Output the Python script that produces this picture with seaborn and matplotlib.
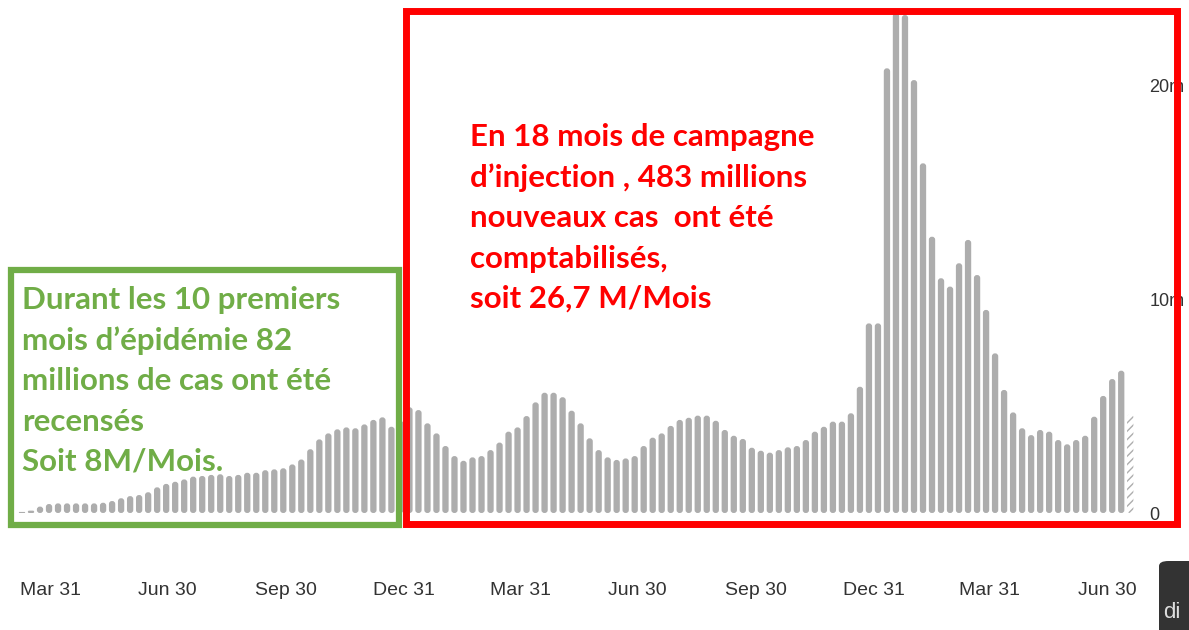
import matplotlib

matplotlib.use("Agg")
import matplotlib.pyplot as plt  # noqa: E402
import numpy as np  # noqa: E402
import pandas as pd  # noqa: E402
import seaborn as sns  # noqa: E402
from matplotlib.patches import FancyBboxPatch, Rectangle  # noqa: E402

# weekly new cases (millions)
cases_2020 = [
    0.05, 0.11, 0.30, 0.42, 0.45, 0.45, 0.45, 0.45, 0.45, 0.48,
    0.56, 0.69, 0.79, 0.84, 0.97, 1.20, 1.36, 1.46, 1.57, 1.70,
    1.73, 1.78, 1.81, 1.73, 1.78, 1.88, 1.88, 2.00, 2.04, 2.09,
    2.27, 2.50, 2.98, 3.44, 3.72, 3.91, 4.00, 3.96, 4.14, 4.35,
    4.47, 4.03,
]
cases_2021 = [
    4.30, 4.94, 4.81, 4.19, 3.72, 3.13, 2.66, 2.44, 2.60, 2.66,
    2.94, 3.29, 3.80, 4.00, 4.53, 5.17, 5.62, 5.62, 5.41, 4.78,
    4.19, 3.49, 2.94, 2.60, 2.48, 2.55, 2.66, 3.13, 3.52, 3.72,
    4.07, 4.35, 4.45, 4.55, 4.55, 4.31, 3.88, 3.61, 3.46, 3.05,
    2.91, 2.82, 2.94, 3.07, 3.13, 3.41, 3.80,
]
cases_2022 = [
    4.03, 4.27, 4.27, 4.66, 5.90, 8.86, 8.86, 20.78, 23.35, 23.27,
    20.23, 16.34, 12.91, 10.97, 10.58, 11.67, 12.76, 11.12, 9.49, 7.46,
    5.75, 4.70, 3.96, 3.64, 3.88, 3.80, 3.41, 3.21, 3.41, 3.61,
    4.50, 5.47, 6.26, 6.65, 4.61,
]
first_week = "2020-03-09"
tick_dates = ["2020-03-31", "2020-06-30", "2020-09-30", "2020-12-31",
              "2021-03-31", "2021-06-30", "2021-09-30", "2021-12-31",
              "2022-03-31", "2022-06-30"]
tick_labels = ["Mar 31", "Jun 30", "Sep 30", "Dec 31",
               "Mar 31", "Jun 30", "Sep 30", "Dec 31",
               "Mar 31", "Jun 30"]
y_ticks = [0, 10, 20]
y_labels = ["0", "10m", "20m"]

green_text = ("Durant les 10 premiers\nmois d\u2019épidémie 82\n"
              "millions de cas ont été\nrecensés\nSoit 8M/Mois.")
red_text = ("En 18 mois de campagne\nd\u2019injection , 483 millions\n"
            "nouveaux cas  ont été\ncomptabilisés,\nsoit 26,7 M/Mois")

values = cases_2020 + cases_2021 + cases_2022
weeks = pd.date_range(first_week, periods=len(values), freq="7D")
df = pd.DataFrame({"week": weeks, "cases": values})
df["pos"] = np.arange(len(df))

W, H = 1189, 630
BAR_GREY = "#adadad"
sns.set_theme(style="white")
tick_font = ["Liberation Sans", "DejaVu Sans"]

fig = plt.figure(figsize=(W / 100, H / 100), dpi=100)
ax = fig.add_axes([0, 117 / H, 1145 / W, 513 / H])

sns.barplot(data=df, x="pos", y="cases", native_scale=True, color=BAR_GREY,
            saturation=1, width=0.7, linewidth=0, ax=ax)

ax.set_xlim(-22 / 9.01, (1145 - 22) / 9.01)
ax.set_ylim(0, 513 / 21.4)

# swap seaborn's rectangles for capsule-ended bars (same geometry)
rx = 0.33
aspect = (1 / 21.4) / (1 / 9.01)
bars = list(ax.patches)
for i, p in enumerate(bars):
    x0, y0, w, h = p.get_x(), p.get_y(), p.get_width(), p.get_height()
    r = min(rx, h / aspect / 2)
    cap = FancyBboxPatch((x0, y0), w, h,
                         boxstyle=f"round,pad=0,rounding_size={r:.4f}",
                         mutation_aspect=aspect, linewidth=0,
                         facecolor=BAR_GREY)
    if i == len(bars) - 1:
        # last week is incomplete -> hatched bar
        cap.set_facecolor("white")
        cap.set_edgecolor(BAR_GREY)
        cap.set_hatch("////")
    p.remove()
    ax.add_patch(cap)

for s in ax.spines.values():
    s.set_visible(False)

start = pd.Timestamp(first_week)
tick_pos = [(pd.Timestamp(d) - start).days / 7 for d in tick_dates]
ax.set_xticks(tick_pos)
ax.set_xticklabels(tick_labels, family=tick_font, fontsize=14, color="#333333")
ax.tick_params(axis="x", length=0, pad=50)
ax.yaxis.tick_right()
ax.set_yticks(y_ticks)
ax.set_yticklabels(y_labels, family=tick_font, fontsize=13, color="#333333")
ax.tick_params(axis="y", length=0, pad=3)
ax.set_xlabel("")
ax.set_ylabel("")


def px_rect(x0, y0, x1, y1, color, lw):
    fig.patches.append(Rectangle((x0 / W, 1 - y1 / H), (x1 - x0) / W,
                                 (y1 - y0) / H, transform=fig.transFigure,
                                 fill=False, edgecolor=color, linewidth=lw,
                                 zorder=5))


px_rect(11, 270, 399, 525, "#70ad47", 4.5)
px_rect(406, 11, 1177, 524, "#ff0000", 5)

fig.text(22 / W, 1 - 286 / H, green_text, color="#70ad47", fontsize=22.5,
         fontweight="bold", family="Lato", va="top", ha="left",
         linespacing=1.53)
fig.text(470 / W, 1 - 123 / H, red_text, color="#ff0000", fontsize=22.5,
         fontweight="bold", family="Lato", va="top", ha="left",
         linespacing=1.53)

# cropped dark button in the corner
fig.patches.append(FancyBboxPatch((1159 / W, -0.05), 0.1, 0.05 + (630 - 561) / H,
                                  boxstyle="round,pad=0,rounding_size=0.008",
                                  transform=fig.transFigure, facecolor="#333333",
                                  edgecolor="none"))
fig.text(1163 / W, 1 - 612 / H, "di", color="#dddddd", fontsize=16,
         family=tick_font, va="center", ha="left")

fig.savefig("out.png", dpi=100)
